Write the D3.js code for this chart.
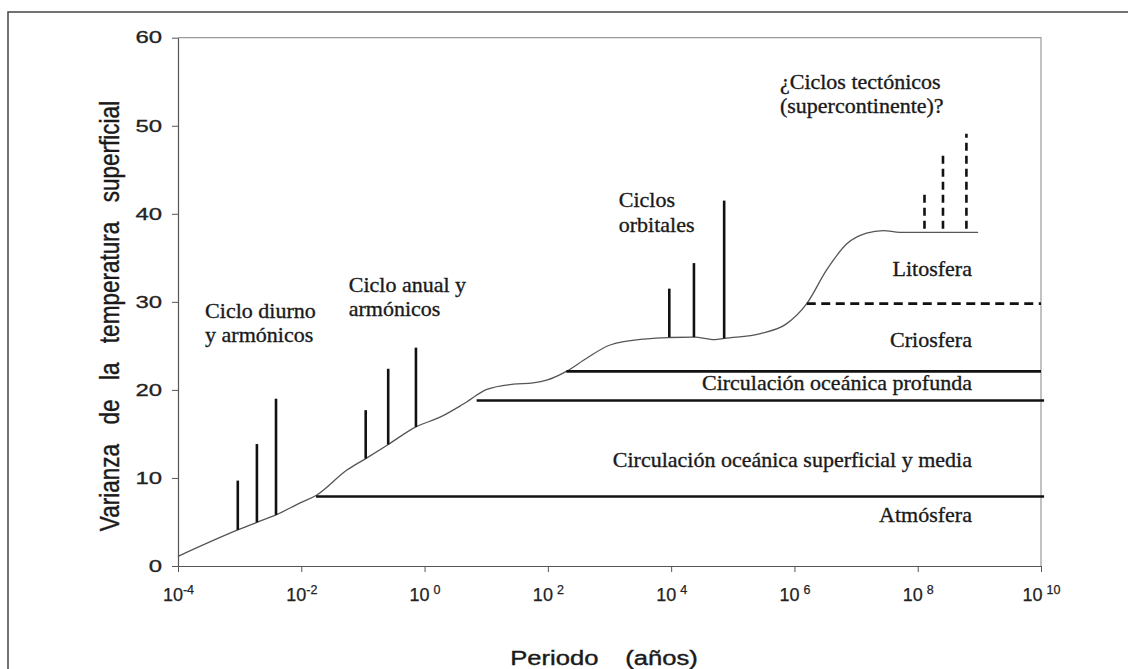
<!DOCTYPE html>
<html>
<head>
<meta charset="utf-8">
<script src="https://cdn.jsdelivr.net/npm/d3@7"></script>
<style>
  body { margin: 0; background: #fff; }
  svg { display: block; }
</style>
</head>
<body>
<div id="grafico"></div>
<script>
// Curva de varianza (log10 del periodo en años, varianza)
const curvaLogP = [-4, -3.03, -2.72, -2.41, -2.01, -1.76, -1.26, -0.955, -0.59, -0.14, 0.25, 0.63, 1.01, 1.44, 1.76, 1.98, 2.30, 2.63, 3.01, 3.60, 3.98, 4.37, 4.71, 4.86, 5.45, 5.87, 6.20, 6.52, 6.85, 7.17, 7.44, 7.71, 8.25, 8.98];
const curvaVar  = [1.1, 4.1, 4.96, 5.8, 7.2, 8.0, 10.9, 12.2, 13.8, 15.8, 16.9, 18.4, 20.05, 20.65, 20.8, 21.1, 22.1, 23.6, 25.1, 25.8, 25.95, 26.0, 25.7, 25.85, 26.4, 27.5, 29.8, 33.6, 36.6, 37.8, 38.1, 37.9, 37.9, 37.9];

// Picos (ciclos)
const diurnoLogP = [-3.03, -2.72, -2.41];
const diurnoBase = [4.1, 4.96, 5.8];
const diurnoTope = [9.7, 13.85, 19.0];

const anualLogP = [-0.955, -0.59, -0.14];
const anualBase = [12.2, 13.8, 15.8];
const anualTope = [17.7, 22.4, 24.8];

const orbitalLogP = [3.97, 4.37, 4.86];
const orbitalBase = [26.0, 26.0, 25.85];
const orbitalTope = [31.5, 34.4, 41.5];

const tectonicoLogP = [8.11, 8.41, 8.79];
const tectonicoBase = [38.3, 38.3, 38.3];
const tectonicoTope = [42.3, 47.0, 49.1];

// Limites entre subsistemas (varianza, desde log10 P, hasta log10 P)
const limitesVar   = [7.9, 18.8, 22.1, 29.8];
const limitesDesde = [-1.76, 0.845, 2.30, 6.20];
const limitesHasta = [10.05, 10.05, 10.0, 10.0];
const limitesDash  = [false, false, false, true];

// Subsistemas
const subsistemas = ["Litosfera", "Criosfera", "Circulación oceánica profunda", "Circulación oceánica superficial y media", "Atmósfera"];
const subsistemasVar = [32.9, 24.86, 19.98, 11.24, 4.99];

// Ejes
const yTicks = [0, 10, 20, 30, 40, 50, 60];
const xExpTicks = [-4, -2, 0, 2, 4, 6, 8, 10];

const svgWidth = 1128, svgHeight = 669;
const margin = { top: 37.7, right: 87, bottom: 103, left: 178 };
const serif = "'Liberation Serif', 'Times New Roman', Times, serif";
const sans = "'Liberation Sans', Arial, Helvetica, sans-serif";

const svg = d3.select("#grafico")
    .append("svg")
    .attr("width", svgWidth)
    .attr("height", svgHeight);

// Marco exterior
svg.append("path")
    .attr("d", `M8,${svgHeight} L8,12 L${svgWidth},12`)
    .attr("fill", "none")
    .attr("stroke", "#444")
    .attr("stroke-width", 1.5);

const x = d3.scaleLog()
    .domain([1e-4, 1e10])
    .range([margin.left, svgWidth - margin.right]);

const y = d3.scaleLinear()
    .domain([0, 60])
    .range([svgHeight - margin.bottom, margin.top]);

const P = e => Math.pow(10, e);

// Borde superior y derecho
svg.append("path")
    .attr("d", `M${x(1e-4)},${y(60)} L${x(1e10)},${y(60)} L${x(1e10)},${y(0)}`)
    .attr("fill", "none")
    .attr("stroke", "#9a9a9a")
    .attr("stroke-width", 1.2);

// Eje Y
const ejeY = svg.append("g")
    .attr("transform", `translate(${x(1e-4)},0)`)
    .call(d3.axisLeft(y).tickValues(yTicks).tickSize(6).tickSizeOuter(0).tickPadding(10));
ejeY.select(".domain").attr("stroke", "#555").attr("stroke-width", 1.2);
ejeY.selectAll(".tick line").attr("stroke", "#555");
ejeY.selectAll(".tick text")
    .attr("x", 0)
    .attr("transform", "translate(-16,0) scale(1.45,1)")
    .attr("font-family", sans)
    .attr("font-size", 16.5)
    .attr("fill", "#222")
    .attr("stroke", "#222")
    .attr("stroke-width", 0.3);

// Eje X
const ejeX = svg.append("g")
    .attr("transform", `translate(0,${y(0)})`)
    .call(d3.axisBottom(x).tickValues(xExpTicks.map(P)).tickSize(6).tickSizeOuter(0).tickFormat(""));
ejeX.select(".domain").attr("stroke", "#555").attr("stroke-width", 1.2);
ejeX.selectAll(".tick line").attr("stroke", "#555");
ejeX.selectAll(".tick text").each(function(d, i) {
    const exp = xExpTicks[i];
    const t = d3.select(this)
        .attr("y", 35)
        .attr("dy", 0)
        .attr("text-anchor", "middle")
        .attr("font-family", sans)
        .attr("font-size", 18)
        .attr("fill", "#222")
        .attr("stroke", "#222")
        .attr("stroke-width", 0.25);
    t.append("tspan").text("10");
    t.append("tspan")
        .attr("dx", exp >= 0 ? 4 : 0)
        .attr("dy", -7)
        .attr("font-size", 12.5)
        .text(exp < 0 ? "-" + Math.abs(exp) : exp);
});

// Curva
const linea = d3.line()
    .x(d => x(P(d[0])))
    .y(d => y(d[1]))
    .curve(d3.curveMonotoneX);

svg.append("path")
    .datum(d3.zip(curvaLogP, curvaVar))
    .attr("fill", "none")
    .attr("stroke", "#555")
    .attr("stroke-width", 1.3)
    .attr("d", linea);

// Limites horizontales
limitesVar.forEach((v, i) => {
    svg.append("line")
        .attr("x1", x(P(limitesDesde[i])))
        .attr("x2", x(P(limitesHasta[i])))
        .attr("y1", y(v))
        .attr("y2", y(v))
        .attr("stroke", "#111")
        .attr("stroke-width", 2.6)
        .attr("stroke-dasharray", limitesDash[i] ? "9,5.5" : null);
});

// Picos
function picos(logP, base, tope, discontinuo) {
    logP.forEach((e, i) => {
        svg.append("line")
            .attr("x1", x(P(e)))
            .attr("x2", x(P(e)))
            .attr("y1", y(base[i]))
            .attr("y2", y(tope[i]))
            .attr("stroke", "#111")
            .attr("stroke-width", 2.6)
            .attr("stroke-dasharray", discontinuo ? "8,5" : null);
    });
}
picos(diurnoLogP, diurnoBase, diurnoTope, false);
picos(anualLogP, anualBase, anualTope, false);
picos(orbitalLogP, orbitalBase, orbitalTope, false);
picos(tectonicoLogP, tectonicoBase, tectonicoTope, true);

// Etiquetas (serif)
function etiqueta(lineas, xx, yy, ancla, salto) {
    const t = svg.append("text")
        .attr("x", xx)
        .attr("y", yy)
        .attr("text-anchor", ancla)
        .attr("font-family", serif)
        .attr("font-size", 22)
        .attr("fill", "#1a1a1a")
        .attr("stroke", "#1a1a1a")
        .attr("stroke-width", 0.35);
    lineas.forEach((l, i) => {
        t.append("tspan").attr("x", xx).attr("dy", i === 0 ? 0 : salto).text(l);
    });
}
etiqueta(["Ciclo diurno", "y armónicos"], x(P(-3.56)), 318, "start", 23.5);
etiqueta(["Ciclo anual y", "armónicos"], x(P(-1.23)), 292, "start", 23.5);
etiqueta(["Ciclos", "orbitales"], x(P(3.15)), 207, "start", 25);
etiqueta(["¿Ciclos tectónicos", "(supercontinente)?"], x(P(5.765)), 89, "start", 24);

const xDerecha = x(P(8.88));
subsistemas.forEach((s, i) => {
    svg.append("text")
        .attr("x", xDerecha)
        .attr("y", y(subsistemasVar[i]))
        .attr("text-anchor", "end")
        .attr("font-family", serif)
        .attr("font-size", 22)
        .attr("fill", "#1a1a1a")
        .attr("stroke", "#1a1a1a")
        .attr("stroke-width", 0.35)
        .text(s);
});

// Titulos de ejes
svg.append("text")
    .attr("transform", "translate(119,316) rotate(-90) scale(0.82,1)")
    .attr("text-anchor", "middle")
    .attr("font-family", sans)
    .attr("font-size", 27.5)
    .attr("word-spacing", 16)
    .attr("fill", "#1a1a1a")
    .attr("stroke", "#1a1a1a")
    .attr("stroke-width", 0.4)
    .text("Varianza de la temperatura superficial");

svg.append("text")
    .attr("transform", "translate(604,665) scale(1.22,1)")
    .attr("text-anchor", "middle")
    .attr("font-family", sans)
    .attr("font-size", 21)
    .attr("word-spacing", 16)
    .attr("fill", "#1a1a1a")
    .attr("stroke", "#1a1a1a")
    .attr("stroke-width", 0.4)
    .text("Periodo (años)");
</script>
</body>
</html>
